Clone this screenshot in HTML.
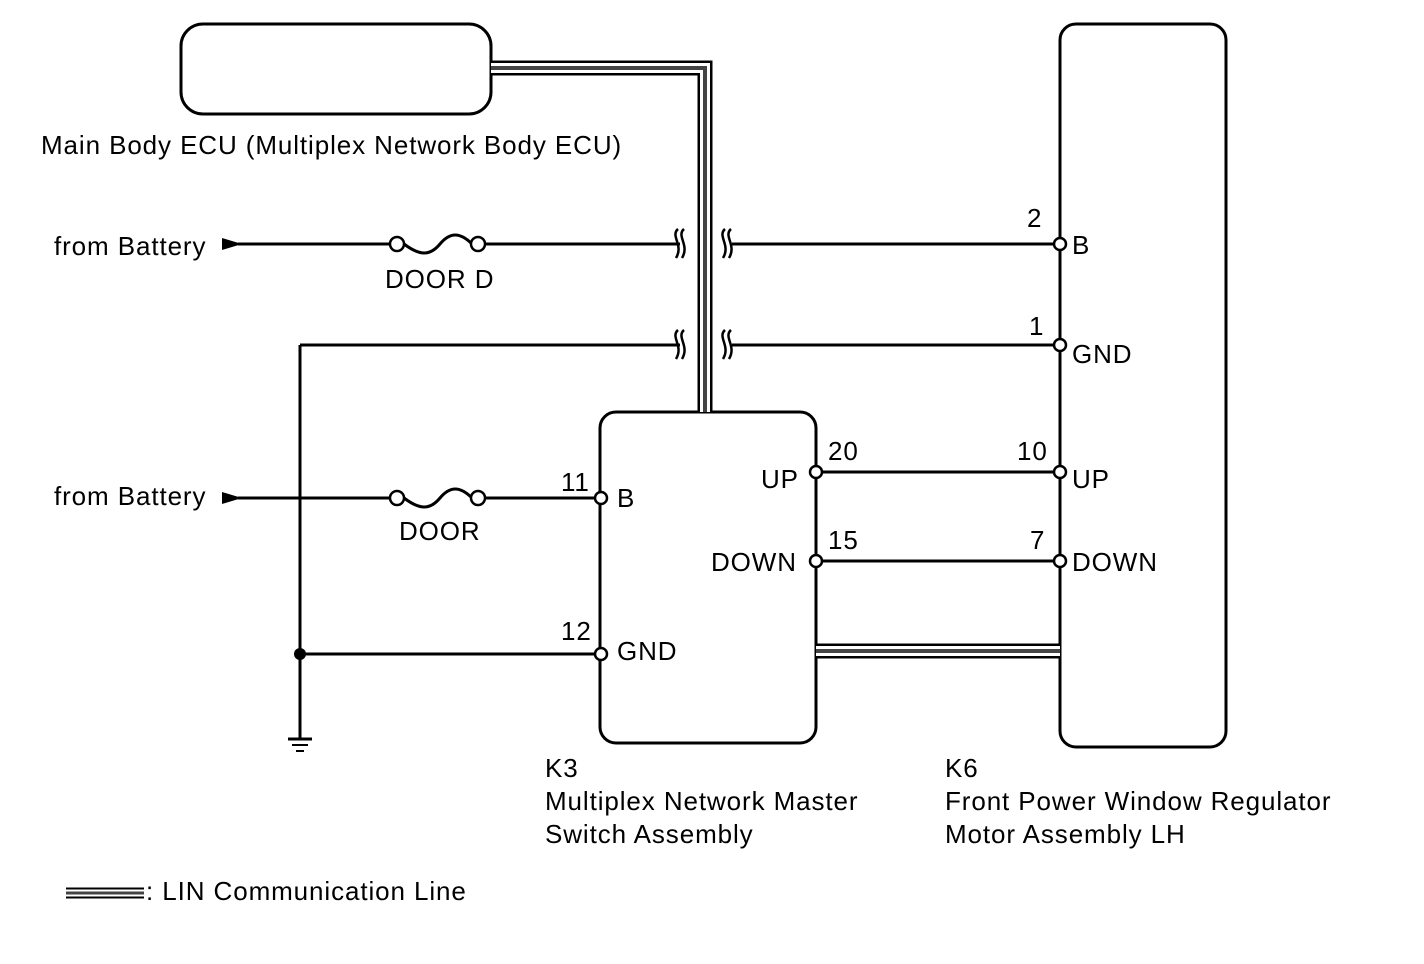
<!DOCTYPE html>
<html><head><style>
body{margin:0;background:#fff}
text{font-family:"Liberation Sans",Arial,sans-serif;font-size:26px;letter-spacing:0.9px;fill:#000}
</style></head><body>
<svg width="1424" height="959" viewBox="0 0 1424 959" xmlns="http://www.w3.org/2000/svg">
<g fill="none" stroke="#000" stroke-width="3">
<rect x="181" y="24" width="310" height="90" rx="22"/>
<rect x="600" y="412" width="216" height="331" rx="16"/>
<rect x="1060" y="24" width="166" height="723" rx="16"/>
</g>
<g fill="none">
<path d="M491 68 H705 V412" stroke="#000" stroke-width="15"/>
<path d="M491 68 H705 V412" stroke="#fff" stroke-width="10"/>
<path d="M491 68 H705 V412" stroke="#444" stroke-width="4"/>
<path d="M816 651 H1060" stroke="#000" stroke-width="15"/>
<path d="M816 651 H1060" stroke="#fff" stroke-width="10"/>
<path d="M816 651 H1060" stroke="#444" stroke-width="4"/>
<path d="M66 893 H144" stroke="#000" stroke-width="11"/>
<path d="M66 893 H144" stroke="#fff" stroke-width="7"/>
<path d="M66 893 H144" stroke="#444" stroke-width="3"/>
</g>
<g fill="none" stroke="#000" stroke-width="3">
<path d="M238 244 H390"/><path d="M486 244 H680"/><path d="M732 244 H1054"/>
<path d="M404 244 C420 256 430 256 440 244 C450 232 460 232 472 244"/>
<path d="M300 345 H680"/><path d="M732 345 H1054"/>
<path d="M300 345 V738"/>
<path d="M300 654 H595"/>
<path d="M238 498 H390"/><path d="M486 498 H595"/>
<path d="M404 498 C420 510 430 510 440 498 C450 486 460 486 472 498"/>
<path d="M822 472 H1054"/><path d="M822 561 H1054"/>
<path d="M288 739 H312" /><path d="M292 745 H308" stroke-width="2"/><path d="M296 751 H304" stroke-width="2"/>
</g>
<g fill="none" stroke="#000" stroke-width="2.5">
<path d="M678 229 C670 236 684 245 676 258 M684 229 C676 236 690 245 682 258"/>
<path d="M725 229 C717 236 731 245 723 258 M731 229 C723 236 737 245 729 258"/>
<path d="M678 330 C670 337 684 346 676 359 M684 330 C676 337 690 346 682 359"/>
<path d="M725 330 C717 337 731 346 723 359 M731 330 C723 337 737 346 729 359"/>
</g>
<path d="M222 238 L242 244 L222 250 Z"/><path d="M222 492 L242 498 L222 504 Z"/>
<circle cx="300" cy="654" r="6"/>
<g fill="#fff" stroke="#000" stroke-width="2.5">
<circle cx="397" cy="244" r="7"/><circle cx="478" cy="244" r="7"/>
<circle cx="397" cy="498" r="7"/><circle cx="478" cy="498" r="7"/>
<circle cx="601" cy="498" r="6"/><circle cx="601" cy="654" r="6"/>
<circle cx="816" cy="472" r="6"/><circle cx="816" cy="561" r="6"/>
<circle cx="1060" cy="244" r="6"/><circle cx="1060" cy="345" r="6"/>
<circle cx="1060" cy="472" r="6"/><circle cx="1060" cy="561" r="6"/>
</g>
<text x="41" y="154">Main Body ECU (Multiplex Network Body ECU)</text>
<text x="54" y="255">from Battery</text>
<text x="54" y="505">from Battery</text>
<text x="385" y="288">DOOR D</text>
<text x="399" y="540">DOOR</text>
<text x="561" y="491">11</text><text x="617" y="507">B</text>
<text x="561" y="640">12</text><text x="617" y="660">GND</text>
<text x="761" y="488">UP</text><text x="828" y="460">20</text>
<text x="711" y="571">DOWN</text><text x="828" y="549">15</text>
<text x="1027" y="227">2</text><text x="1072" y="254">B</text>
<text x="1029" y="335">1</text><text x="1072" y="363">GND</text>
<text x="1017" y="460">10</text><text x="1072" y="488">UP</text>
<text x="1030" y="549">7</text><text x="1072" y="571">DOWN</text>
<text x="545" y="777">K3</text>
<text x="545" y="810">Multiplex Network Master</text>
<text x="545" y="843">Switch Assembly</text>
<text x="945" y="777">K6</text>
<text x="945" y="810">Front Power Window Regulator</text>
<text x="945" y="843">Motor Assembly LH</text>
<text x="146" y="900">: LIN Communication Line</text>
</svg>
</body></html>
